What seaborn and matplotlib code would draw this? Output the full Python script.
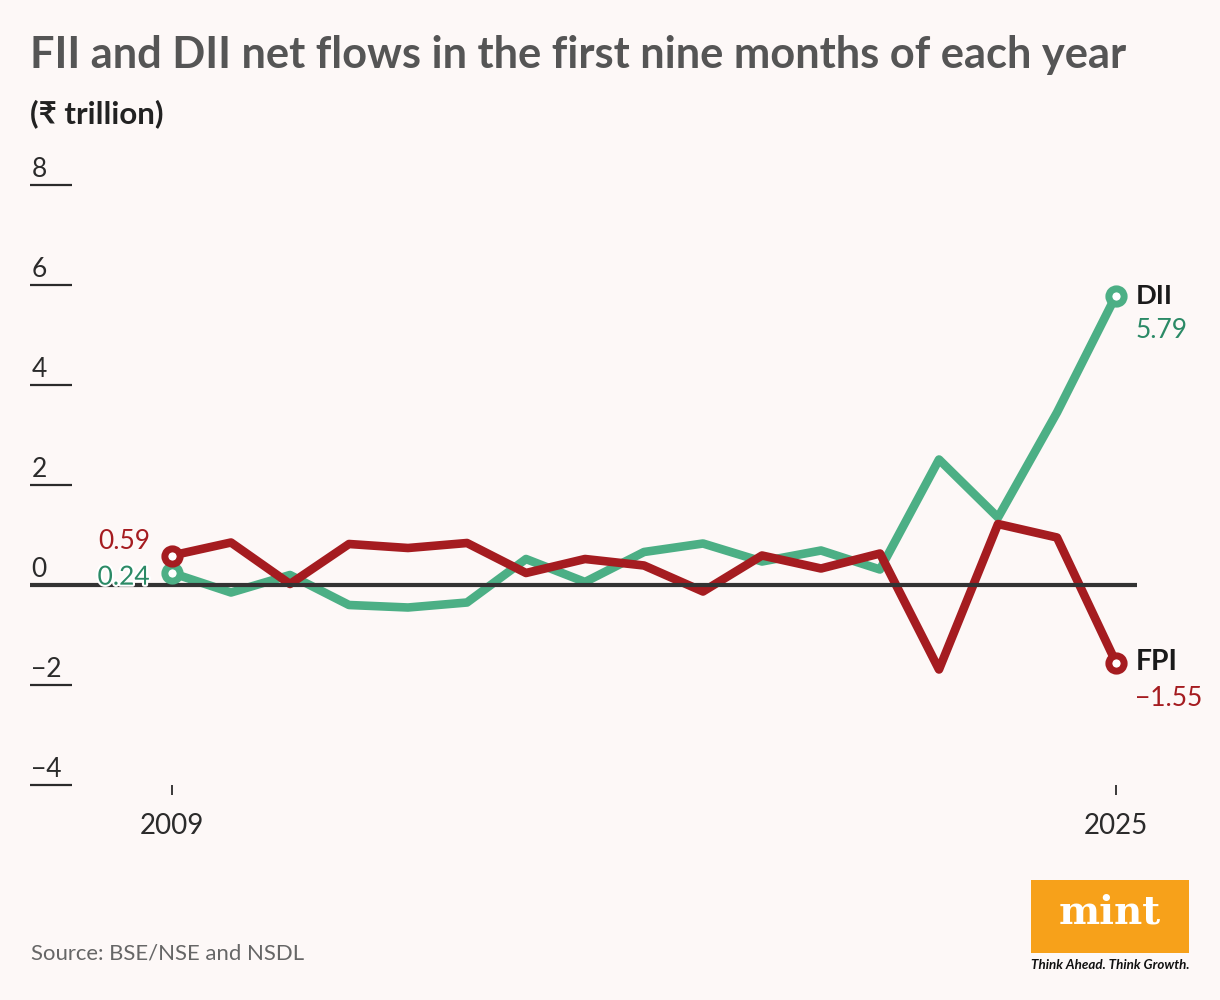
import numpy as np
import pandas as pd
import seaborn as sns
import matplotlib.pyplot as plt
import matplotlib.transforms as mtransforms
from matplotlib import patheffects as pe
from matplotlib.patches import Rectangle

# data (₹ trillion)
years = list(range(2009, 2026))
dii = [0.24, -0.15, 0.20, -0.40, -0.45, -0.35, 0.52, 0.06, 0.66, 0.83,
       0.47, 0.69, 0.31, 2.51, 1.35, 3.45, 5.79]
fpi = [0.59, 0.85, 0.02, 0.82, 0.74, 0.84, 0.24, 0.52, 0.39, -0.13,
       0.59, 0.33, 0.63, -1.69, 1.22, 0.95, -1.55]
y_ticks = [-4, -2, 0, 2, 4, 6, 8]
x_ticks = [2009, 2025]

bg = "#fdf8f7"
green = "#4caf85"
green_txt = "#2b8a66"
red = "#a51c20"
dark = "#2b2b2b"
W, H = 1220, 1000

sns.set_theme(style="white")
fams = ["Lato", "DejaVu Sans"]
plt.rcParams["font.family"] = fams

df = pd.DataFrame({
    "year": years * 2,
    "value": dii + fpi,
    "series": ["DII"] * len(years) + ["FPI"] * len(years),
})

fig = plt.figure(figsize=(W / 100, H / 100), dpi=100, facecolor=bg)
ax = fig.add_axes([30 / W, 1 - 785 / H, (1137 - 30) / W, 600 / H])
ax.set_facecolor(bg)

sns.lineplot(data=df, x="year", y="value", hue="series",
             palette={"DII": green, "FPI": red}, linewidth=6.2,
             legend=False, ax=ax, zorder=3)

ax.axhline(0, color="#333333", lw=3, zorder=4)

# end markers
for vals, col in [(dii, green), (fpi, red)]:
    ax.plot([years[0], years[-1]], [vals[0], vals[-1]], ls="none", marker="o",
            ms=11, mfc="white", mec=col, mew=5, zorder=5)

ax.set_xlim(2009 - 142 / 59, 2025 + 21 / 59)
ax.set_ylim(-4, 8)
ax.set_xlabel("")
ax.set_ylabel("")
ax.grid(False)
for s in ax.spines.values():
    s.set_visible(False)

fits = []  # (text, target width px)

ax.set_yticks(y_ticks)
ax.tick_params(axis="y", direction="in", length=30, width=1.6, color=dark,
               labelleft=False, left=True)
trans = mtransforms.blended_transform_factory(ax.transAxes, ax.transData)
for v in y_ticks:
    lab = str(v).replace("-", "\u2212")
    ax.annotate(lab, xy=(0, v), xycoords=trans, xytext=(1, 2),
                textcoords="offset points", ha="left", va="bottom",
                fontsize=19, color=dark)

ax.set_xticks(x_ticks)
ax.set_xticklabels([str(x) for x in x_ticks])
ax.tick_params(axis="x", direction="out", length=7, width=1.3, color=dark,
               pad=13, labelsize=20, labelcolor=dark, bottom=True)

# direct labels
vs = 19
t1 = ax.annotate("DII", xy=(years[-1], dii[-1]), xytext=(14, 0), textcoords="offset points",
                 ha="left", va="center", fontsize=18, weight="bold", color="#1a1a1a")
ax.annotate(f"{dii[-1]:.2f}", xy=(years[-1], dii[-1]), xytext=(14, -25),
            textcoords="offset points", ha="left", va="center", fontsize=vs,
            color=green_txt)
t3 = ax.annotate("FPI", xy=(years[-1], fpi[-1]), xytext=(14, 0), textcoords="offset points",
                 ha="left", va="center", fontsize=18, weight="bold", color="#1a1a1a")
ax.annotate(f"{fpi[-1]:.2f}".replace("-", "\u2212"), xy=(years[-1], fpi[-1]),
            xytext=(14, -26), textcoords="offset points", ha="left", va="center",
            fontsize=vs, color=red)
ax.annotate(f"{fpi[0]:.2f}", xy=(years[0], fpi[0]), xytext=(-16, 10),
            textcoords="offset points", ha="right", va="center", fontsize=vs,
            color=red)
ax.annotate(f"{dii[0]:.2f}", xy=(years[0], dii[0]), xytext=(-16, -3),
            textcoords="offset points", ha="right", va="center", fontsize=vs,
            color=green_txt, zorder=6,
            path_effects=[pe.withStroke(linewidth=3, foreground="white")])
fits += [(t1, 37), (t3, 42)]

# title block
title = fig.text(30 / W, 1 - 55 / H, "FII and DII net flows in the first nine months of each year",
                 ha="left", va="center", fontsize=30, weight="bold", color="#555555")
sub = fig.text(30 / W, 1 - 114 / H, "(\u20b9 trillion)", ha="left", va="center",
               fontsize=20, weight="bold", color="#222222")
src = fig.text(31 / W, 1 - 954 / H, "Source: BSE/NSE and NSDL", ha="left", va="center",
               fontsize=16, color="#666666")
fits += [(title, 1097), (sub, 133), (src, 274)]

# mint logo
fig.patches.append(Rectangle((1031 / W, 1 - 953 / H), 158 / W, 73 / H,
                             transform=fig.transFigure, facecolor="#f7a11a",
                             edgecolor="none", figure=fig))
mint = fig.text(1110 / W, 1 - 912 / H, "mint", ha="center", va="center", fontsize=32,
                weight="bold", color="white", family="DejaVu Serif")
tag = fig.text(1110 / W, 1 - 965 / H, "Think Ahead. Think Growth.", ha="center", va="center",
               fontsize=10, weight="bold", style="italic", color="#111111")
fits += [(mint, 102), (tag, 158)]

# fit text widths to the reference
fig.canvas.draw()
r = fig.canvas.get_renderer()
for t, target in fits:
    w = t.get_window_extent(r).width
    t.set_fontsize(t.get_fontsize() * target / w)

fig.savefig("out.png", dpi=100, facecolor=bg)
